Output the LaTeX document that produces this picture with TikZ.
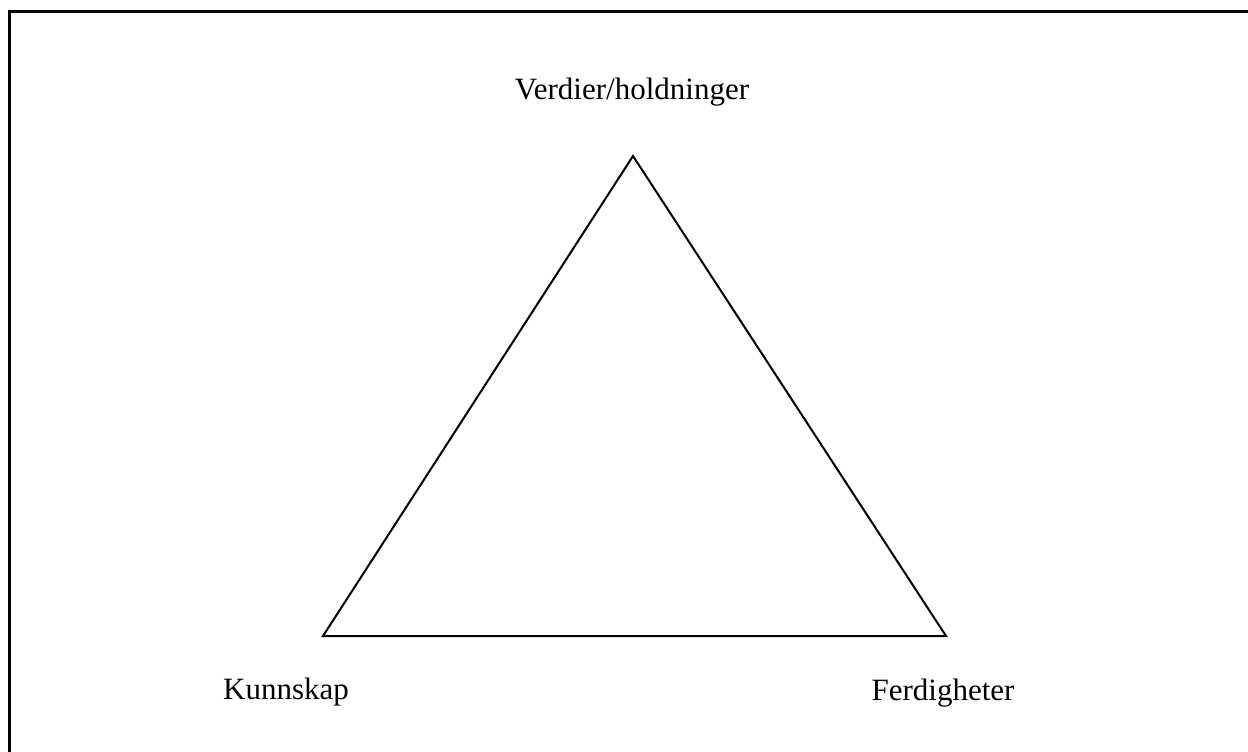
\documentclass[tikz,border=0pt]{standalone}
\usepackage{fontspec}
\setmainfont{Liberation Serif}
\usetikzlibrary{positioning}

\begin{document}
\begin{tikzpicture}[x=0.5pt,y=-0.5pt]

\useasboundingbox (0,0) rectangle (1248,751);

\tikzset{label text/.style={font=\fontsize{15.5pt}{18pt}\selectfont, anchor=base, inner sep=0pt}}

\coordinate (top) at (633,156);
\coordinate (kunn) at (323,636);
\coordinate (ferd) at (946,636);

\path[draw, line width=1pt, line join=miter] (kunn) -- (top) -- (ferd) -- cycle;

\node[label text] (verdier) at (632,99) {Verdier/holdninger};
\node[label text] (kunnskap) at (286,699) {Kunnskap};
\node[label text] (ferdigheter) at (943,700) {Ferdigheter};

% frame, runs off the right and bottom edges
\path[draw, line width=1.5pt] (9,11) rectangle (1270,780);

\end{tikzpicture}
\end{document}
